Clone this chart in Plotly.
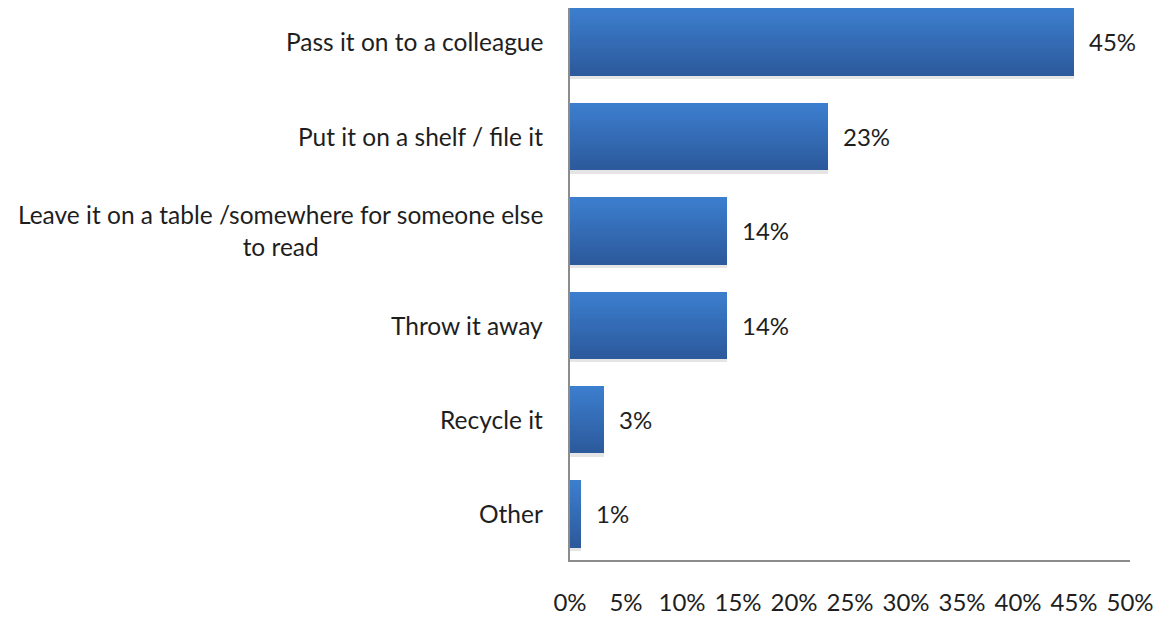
import plotly.graph_objects as go

# Survey responses: what people do with the publication after reading it
categories = [
    "Pass it on to a colleague",
    "Put it on a shelf / file it",
    "Leave it on a table /somewhere for someone else<br>to read",
    "Throw it away",
    "Recycle it",
    "Other",
]
shares = [45, 23, 14, 14, 3, 1]
value_labels = ["45%", "23%", "14%", "14%", "3%", "1%"]
tick_values = [0, 5, 10, 15, 20, 25, 30, 35, 40, 45, 50]
tick_labels = ["0%", "5%", "10%", "15%", "20%", "25%", "30%", "35%", "40%", "45%", "50%"]

positions = list(range(len(categories)))
bar_width = 0.71
text_color = "#1e1e1e"
label_font = "Lato"
number_font = "Lato"

fig = go.Figure()

# soft drop shadow under each bar
fig.add_trace(go.Bar(
    x=shares, y=positions, orientation="h",
    width=bar_width, offset=-bar_width / 2 + 0.04,
    marker=dict(color="rgba(0,0,0,0.10)", line=dict(width=0)),
    hoverinfo="skip", showlegend=False,
))

# vertical gradient: stacked horizontal stripes from light (top) to dark (bottom)
top_rgb = (60, 126, 206)
bottom_rgb = (44, 90, 156)
n_stripes = 24
stripe = bar_width / n_stripes
for i in range(n_stripes):
    t = i / (n_stripes - 1)
    r = round(top_rgb[0] + (bottom_rgb[0] - top_rgb[0]) * t)
    g = round(top_rgb[1] + (bottom_rgb[1] - top_rgb[1]) * t)
    b = round(top_rgb[2] + (bottom_rgb[2] - top_rgb[2]) * t)
    # y axis is reversed, so a larger offset sits lower on screen
    fig.add_trace(go.Bar(
        x=shares, y=positions, orientation="h",
        width=stripe * 1.15, offset=-bar_width / 2 + i * stripe,
        marker=dict(color=f"rgb({r},{g},{b})", line=dict(width=0)),
        hoverinfo="skip", showlegend=False,
    ))

# value labels at the end of each bar
for pos, val, lab in zip(positions, shares, value_labels):
    fig.add_annotation(
        x=val, y=pos, xref="x", yref="y", text=lab, showarrow=False,
        xanchor="left", yanchor="middle", xshift=13,
        font=dict(family=number_font, size=24, color=text_color),
    )

# category labels, centred multi-line text right-aligned to the axis
for pos, cat in zip(positions, categories):
    fig.add_annotation(
        x=0, y=pos, xref="paper", yref="y", text=cat, showarrow=False,
        xanchor="right", yanchor="middle", xshift=-25, align="center",
        font=dict(family=label_font, size=24.5, color=text_color),
    )

fig.update_layout(
    width=1163, height=617,
    margin=dict(l=570, r=33, t=8, b=57),
    paper_bgcolor="white", plot_bgcolor="white",
    barmode="overlay", bargap=0, showlegend=False,
    xaxis=dict(
        range=[0, 50], tickvals=tick_values, ticktext=tick_labels,
        showgrid=False, zeroline=False, automargin=False,
        showline=True, linecolor="#8c8c8c", linewidth=1.5,
        ticks="outside", ticklen=20, tickcolor="rgba(0,0,0,0)",
        tickfont=dict(family=number_font, size=24, color=text_color),
        fixedrange=True,
    ),
    yaxis=dict(
        range=[5.49, -0.36], showticklabels=False, automargin=False,
        showgrid=False, zeroline=False,
        showline=True, linecolor="#8c8c8c", linewidth=1.5,
        ticks="", fixedrange=True,
    ),
)

fig.write_html("out.html")
